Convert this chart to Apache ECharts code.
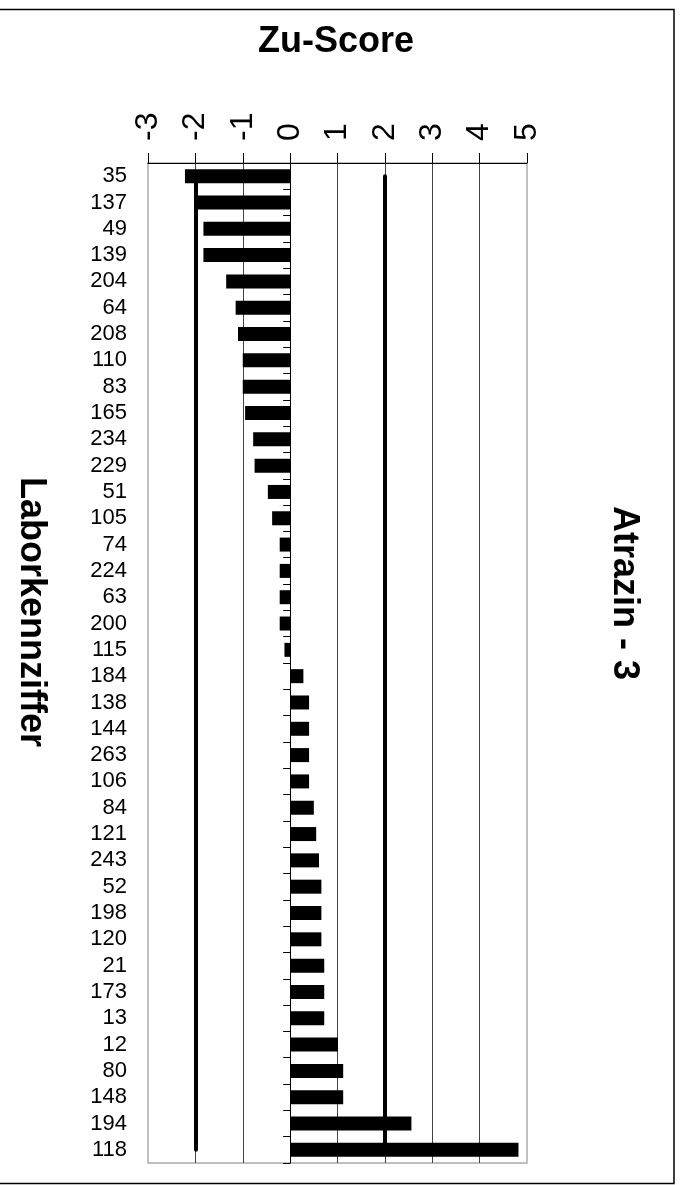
<!DOCTYPE html>
<html>
<head>
<meta charset="utf-8">
<script src="https://cdn.jsdelivr.net/npm/echarts@6/dist/echarts.min.js"></script>
<style>
    html, body { margin: 0; padding: 0; background: #fff; }
    #chart { width: 681px; height: 1185px; }
</style>
</head>
<body>
<div id="chart"></div>
<script>
    var labs = ['35','137','49','139','204','64','208','110','83','165',
                '234','229','51','105','74','224','63','200','115','184',
                '138','144','263','106','84','121','243','52','198','120',
                '21','173','13','12','80','148','194','118'];
    var scores = [-2.22, -2.02, -1.83, -1.83, -1.35, -1.15, -1.10, -1.00, -1.00, -0.95,
                  -0.78, -0.75, -0.47, -0.38, -0.22, -0.22, -0.22, -0.22, -0.12, 0.28,
                  0.40, 0.40, 0.40, 0.40, 0.50, 0.55, 0.61, 0.66, 0.66, 0.66,
                  0.72, 0.72, 0.72, 1.01, 1.12, 1.12, 2.56, 4.82];
    var limits = [-2, 2];
    var xMin = -3, xMax = 5;

    var font = "'Liberation Sans', Arial, sans-serif";
    var gridL = 148, gridR = 154;
    var plotW = 681 - gridL - gridR;
    // second y axis (ticks only) sits on the zero line
    var zeroOffset = -plotW * (0 - xMin) / (xMax - xMin);

    var limitLines = limits.map(function (v) {
        return [{coord: [v, labs[0]]}, {coord: [v, labs[labs.length - 1]]}];
    });

    var myChart = echarts.init(document.getElementById('chart'));
    var option = {
        backgroundColor: '#fff',
        animation: false,
        textStyle: { fontFamily: font },
        grid: {
            left: gridL, right: gridR, top: 163, bottom: 22,
            show: true,
            borderColor: '#c0c0c0',
            borderWidth: 2,
            backgroundColor: 'transparent'
        },
        xAxis: {
            type: 'value',
            position: 'top',
            min: xMin, max: xMax, interval: 1,
            axisLine: { show: true, onZero: false, lineStyle: { color: '#000', width: 1 } },
            axisTick: { show: true, length: 10, lineStyle: { color: '#000' } },
            axisLabel: {
                rotate: -90,
                margin: 22,
                fontSize: 32,
                color: '#000',
                fontFamily: font
            },
            splitLine: {
                show: true,
                lineStyle: {
                    color: ['#c0c0c0', '#444', '#444', '#000', '#444', '#444', '#444', '#444', '#c0c0c0'],
                    width: 1
                }
            }
        },
        yAxis: [
            {
                type: 'category',
                data: labs,
                inverse: true,
                position: 'left',
                axisLine: { show: false, onZero: false },
                axisTick: { show: false },
                axisLabel: { interval: 0, fontSize: 22, color: '#000', margin: 21, fontFamily: font }
            },
            {
                type: 'category',
                data: labs,
                inverse: true,
                position: 'left',
                offset: zeroOffset,
                axisLine: { show: true, onZero: false, lineStyle: { color: '#000', width: 1 } },
                axisTick: { show: true, interval: 0, length: 7, lineStyle: { color: '#000' } },
                axisLabel: { show: false },
                splitLine: { show: false }
            }
        ],
        series: [
            {
                type: 'bar',
                yAxisIndex: 0,
                data: scores,
                barWidth: 14,
                itemStyle: { color: '#000' },
                z: 3,
                markLine: {
                    silent: true,
                    symbol: ['none', 'none'],
                    label: { show: false },
                    lineStyle: { color: '#000', width: 4, type: 'solid', cap: 'round' },
                    data: limitLines
                }
            }
        ],
        graphic: [
            {
                type: 'rect',
                shape: { x: -5, y: 9.5, width: 679, height: 1174 },
                style: { fill: 'none', stroke: '#000', lineWidth: 1.5 },
                silent: true
            },
            {
                type: 'text',
                x: 336, y: 42,
                style: {
                    text: 'Zu-Score', font: 'bold 36px ' + font,
                    fill: '#000', textAlign: 'center', textVerticalAlign: 'middle'
                }
            },
            {
                type: 'text',
                x: 31, y: 612,
                rotation: -Math.PI / 2,
                style: {
                    text: 'Laborkennziffer', font: 'bold 36px ' + font,
                    fill: '#000', textAlign: 'center', textVerticalAlign: 'middle'
                }
            },
            {
                type: 'text',
                x: 624, y: 593,
                rotation: -Math.PI / 2,
                style: {
                    text: 'Atrazin - 3', font: 'bold 36px ' + font,
                    fill: '#000', textAlign: 'center', textVerticalAlign: 'middle'
                }
            }
        ]
    };
    myChart.setOption(option);
</script>
</body>
</html>
